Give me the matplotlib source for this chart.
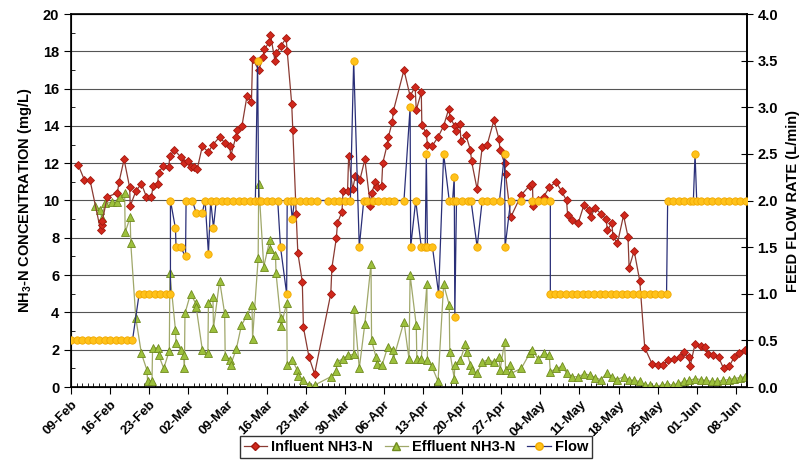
import datetime as dt
import numpy as np
import matplotlib
matplotlib.use("Agg")
import matplotlib.pyplot as plt
import matplotlib.dates as mdates
from matplotlib.ticker import MultipleLocator
from matplotlib.lines import Line2D

plt.rcParams['font.family'] = ['Liberation Sans', 'DejaVu Sans']
plt.rcParams['font.weight'] = 'bold'
plt.rcParams['mathtext.fontset'] = 'custom'
plt.rcParams['mathtext.bf'] = 'Liberation Sans:bold'

# day offsets from 09-Feb
start = mdates.date2num(dt.datetime(2009, 2, 9))

infl_day = [1.3, 2.4, 3.4, 5.3, 5.5, 5.6, 6.5, 8.3, 8.6, 9.5, 10.5, 10.6, 11.6, 12.6, 13.5,
            14.4, 14.7, 15.5, 15.7, 16.5, 17.5, 17.7, 18.5, 19.6, 20.3, 21.0, 21.4, 22.0, 22.6,
            23.5, 24.6, 25.4, 26.6, 27.5, 28.4, 28.6, 29.5, 29.7, 30.6, 31.5, 32.3, 32.5, 33.6,
            34.4, 34.6, 35.5, 35.7, 36.5, 36.7, 37.6, 38.5, 38.7, 39.5, 39.7, 40.3, 40.6, 41.4,
            41.6, 42.6, 43.6, 46.5, 46.7, 47.5, 47.7, 48.5, 48.7, 49.5, 49.7, 50.4, 50.9, 51.7,
            52.6, 53.6, 53.8, 54.5, 54.7, 55.6, 55.8, 56.6, 56.8, 57.5, 57.7, 59.6, 60.7, 61.6,
            61.8, 62.7, 62.8, 63.6, 63.8, 64.6, 65.7, 66.7, 67.6, 67.9, 68.7, 68.9, 69.6, 69.8,
            70.7, 71.5, 71.7, 72.7, 73.6, 74.5, 75.7, 76.6, 76.8, 77.6, 77.8, 78.7, 80.6, 82.1,
            82.6, 82.7, 83.6, 84.6, 85.6, 86.8, 87.8, 88.7, 88.9, 89.7, 90.8, 91.8, 92.8, 93.0,
            93.8, 94.8, 95.8, 96.0, 96.8, 97.0, 97.8, 98.9, 99.7, 99.9, 100.8, 101.8, 102.7,
            104.0, 105.0, 106.0, 106.9, 108.0, 109.0, 109.7, 110.6, 110.8, 111.7, 112.8, 113.4,
            114.0, 114.9, 115.9, 116.8, 117.8, 118.7, 119.6, 120.6]
infl_val = [11.9, 11.1, 11.1, 8.4, 8.7, 8.9, 10.2, 10.4, 11.0, 12.2, 10.7, 9.7, 10.5, 10.9, 10.2,
            10.2, 10.8, 10.9, 11.5, 11.85, 11.8, 12.4, 12.7, 12.35, 12.0, 12.1, 11.8, 11.8, 11.7,
            12.9, 12.6, 13.0, 13.4, 13.1, 12.9, 12.4, 13.4, 13.8, 14.0, 15.6, 15.3, 17.6, 17.0,
            17.7, 18.1, 18.5, 18.9, 17.5, 17.9, 18.3, 18.7, 18.0, 15.2, 13.8, 9.3, 7.2, 5.65,
            3.2, 1.6, 0.7, 5.0, 6.4, 8.0, 8.8, 9.4, 10.5, 10.5, 12.4, 10.6, 11.3, 11.1,
            12.2, 9.7, 10.4, 11.0, 10.7, 10.8, 12.0, 13.0, 13.4, 14.2, 14.8, 17.0, 15.6, 16.1,
            14.85, 15.8, 14.05, 13.6, 13.0, 12.9, 13.4, 14.0, 14.9, 14.4, 14.0, 13.7, 14.1, 13.2,
            13.5, 12.7, 12.1, 10.6, 12.85, 13.0, 14.3, 13.3, 12.7, 12.0, 11.4, 9.1, 10.3, 10.8,
            10.9, 9.7, 10.0, 10.2, 10.7, 11.0, 10.5, 10.0, 9.2, 8.95, 8.8, 9.75, 9.5, 9.1,
            9.6, 9.3, 9.0, 8.4, 8.8, 8.1, 7.7, 9.2, 8.05, 6.4, 7.3, 5.7, 2.1,
            1.25, 1.2, 1.2, 1.45, 1.5, 1.6, 1.85, 1.6, 1.1, 2.3, 2.2, 2.15,
            1.75, 1.7, 1.6, 1.0, 1.1, 1.6, 1.8, 2.0]

effl_day = [4.3, 5.2, 5.5, 6.1, 7.3, 8.2, 8.8, 9.6, 9.7, 10.6, 10.7, 11.6, 12.6, 13.6, 13.7,
            14.5, 14.6, 15.6, 15.7, 16.6, 17.6, 17.7, 18.7, 18.8, 19.6, 20.2, 20.3, 20.4, 21.4,
            22.3, 22.4, 23.5, 24.5, 24.6, 25.4, 25.5, 26.6, 27.5, 27.6, 28.5, 28.6, 29.6, 30.5,
            31.5, 32.4, 32.5, 33.5, 33.6, 34.5, 35.6, 35.7, 36.6, 36.7, 37.5, 37.6, 38.6, 38.7,
            39.6, 40.5, 40.6, 41.5, 42.6, 43.6, 46.5, 47.5, 47.6, 48.6, 49.6, 50.6, 50.7, 51.6,
            52.6, 53.7, 53.8, 54.6, 54.7, 55.7, 56.7, 57.6, 57.7, 59.6, 60.5, 60.7, 61.8, 61.9,
            62.7, 63.7, 63.8, 64.6, 65.7, 66.7, 67.7, 67.8, 68.6, 68.7, 69.7, 70.6, 70.8, 71.5,
            71.7, 72.7, 73.6, 74.6, 75.7, 76.6, 76.8, 77.6, 77.8, 78.6, 78.8, 80.6, 82.1, 82.6,
            83.6, 84.6, 85.6, 85.8, 86.8, 87.8, 88.8, 89.7, 90.8, 91.8, 92.9, 93.8, 94.8, 95.9,
            96.8, 97.8, 98.9, 99.8, 100.8, 101.8, 102.7, 103.7, 104.7, 105.7, 106.7, 107.7,
            108.7, 109.7, 110.7, 111.7, 112.7, 113.7, 114.7, 115.7, 116.7, 117.7, 118.7, 119.7,
            120.6]
effl_val = [9.7, 9.5, 9.05, 9.85, 9.9, 9.9, 10.2, 10.4, 8.3, 9.1, 7.7, 3.7, 1.8, 0.9, 0.34,
            0.34, 2.1, 2.1, 1.7, 1.0, 1.95, 6.1, 3.05, 2.35, 2.0, 1.7, 1.0, 3.95, 5.0,
            4.5, 4.3, 2.0, 1.8, 4.5, 4.8, 3.15, 5.7, 3.95, 1.65, 1.45, 1.2, 2.05, 3.3,
            3.85, 4.4, 2.6, 6.9, 10.9, 6.45, 7.9, 7.4, 7.1, 6.1, 3.7, 3.25, 4.5, 1.2,
            1.45, 0.9, 0.6, 0.37, 0.1, 0.1, 0.55, 0.87, 1.35, 1.5, 1.7, 1.75, 4.2, 1.0,
            3.4, 6.6, 2.5, 1.6, 1.23, 1.2, 2.15, 2.0, 1.5, 3.5, 1.5, 6.0, 3.3, 1.5,
            1.5, 5.5, 1.45, 1.1, 0.3, 5.5, 4.4, 1.9, 0.45, 1.2, 1.45, 2.3, 1.9, 1.2,
            0.9, 0.73, 1.35, 1.45, 1.35, 1.6, 0.9, 2.4, 0.9, 1.2, 0.73, 1.0, 1.8, 2.0,
            1.5, 1.8, 1.7, 0.8, 1.0, 1.1, 0.73, 0.55, 0.55, 0.7, 0.65, 0.5, 0.4, 0.73,
            0.55, 0.4, 0.55, 0.4, 0.35, 0.3, 0.1, 0.1, 0.05, 0.1, 0.15, 0.1,
            0.2, 0.3, 0.35, 0.45, 0.4, 0.35, 0.3, 0.3, 0.35, 0.4, 0.45, 0.5,
            0.55]

flow_day = [0, 1, 2, 3, 4, 5, 6, 7, 8, 9, 10, 11,
            12.2, 13, 14, 15, 16, 17, 17.8,
            17.8, 18.7, 18.8, 19.6, 20.5, 20.6, 21.7, 22.4, 23.5, 24.0, 24.6, 25.0, 25.5, 26.0,
            27, 28, 29, 30, 31, 32, 33, 33.4, 33.6, 34, 35, 36, 37,
            37.5, 38.6, 38.7, 39.3, 39.6, 40.0, 41, 42, 43, 44,
            46, 47, 48, 49, 50, 50.6, 51.6, 52.4, 53, 54, 55, 56, 57, 57.8,
            59.6, 60.7, 60.8, 61.7, 62.7, 63.4, 63.6, 63.8, 64.7, 65.8, 66.7, 67.7,
            68.3, 68.6, 68.7, 69.0, 70, 71, 71.6, 72.7, 73.6, 74.5, 75.5, 76.7,
            77.6, 77.7, 78.7, 80.6, 82.6, 83.6, 84.6, 85.8,
            85.8, 86.6, 87.6, 88.6, 89.6, 90.6, 91.6, 92.6, 93.6, 94.6, 95.6, 96.6,
            97.6, 98.6, 99.6, 100.6, 101.6, 102.6, 103.6, 104.6, 105.6, 106.6,
            106.8, 107.8, 108.8, 109.8, 110.8, 111.4, 111.7, 112.0, 112.8, 113.8,
            114.8, 115.8, 116.8, 117.8, 118.8, 119.8, 120.8]
flow_val = [0.5, 0.5, 0.5, 0.5, 0.5, 0.5, 0.5, 0.5, 0.5, 0.5, 0.5, 0.5,
            1.0, 1.0, 1.0, 1.0, 1.0, 1.0, 1.0,
            2.0, 1.7, 1.5, 1.5, 1.4, 2.0, 2.0, 1.87, 1.87, 2.0, 1.43, 2.0, 1.71, 2.0,
            2.0, 2.0, 2.0, 2.0, 2.0, 2.0, 2.0, 3.5, 2.0, 2.0, 2.0, 2.0, 2.0,
            1.5, 1.0, 2.0, 2.0, 1.8, 2.0, 2.0, 2.0, 2.0, 2.0,
            2.0, 2.0, 2.0, 2.0, 2.0, 3.5, 1.5, 2.0, 2.0, 2.0, 2.0, 2.0, 2.0, 2.0,
            2.0, 3.0, 1.5, 2.0, 1.5, 1.5, 2.5, 1.5, 1.5, 1.0, 2.5, 2.0,
            2.0, 2.25, 0.75, 2.0, 2.0, 2.0, 2.0, 1.5, 2.0, 2.0, 2.0, 2.0,
            2.5, 1.5, 2.0, 2.0, 2.0, 2.0, 2.0, 2.0,
            1.0, 1.0, 1.0, 1.0, 1.0, 1.0, 1.0, 1.0, 1.0, 1.0, 1.0, 1.0,
            1.0, 1.0, 1.0, 1.0, 1.0, 1.0, 1.0, 1.0, 1.0, 1.0,
            2.0, 2.0, 2.0, 2.0, 2.0, 2.0, 2.5, 2.0, 2.0, 2.0,
            2.0, 2.0, 2.0, 2.0, 2.0, 2.0, 2.0]

fig = plt.figure(figsize=(8.01, 4.65), dpi=100)
ax = fig.add_axes([71 / 801, 1 - 387 / 465, (747 - 71) / 801, (387 - 14) / 465])
ax2 = ax.twinx()

ax.plot(start + np.array(effl_day), effl_val, '-', color='#a0a86a', lw=0.9,
        marker='^', ms=5.2, mfc='#9cc03c', mec='#6f8a1e', mew=0.6, zorder=3)
ax.plot(start + np.array(infl_day), infl_val, '-', color='#8a3a32', lw=0.9,
        marker='D', ms=4.0, mfc='#d0281c', mec='#a3180f', mew=0.6, zorder=4)
ax2.plot(start + np.array(flow_day), flow_val, '-', color='#2a2f78', lw=0.9,
         marker='o', ms=5.3, mfc='#ffc21a', mec='#f0a800', mew=0.6, zorder=5)

ax.set_ylim(0, 20)
ax2.set_ylim(0, 4)
ax.set_xlim(start, start + 121)

ax.yaxis.set_major_locator(MultipleLocator(2))
ax.yaxis.set_minor_locator(MultipleLocator(1))
ax2.yaxis.set_major_locator(MultipleLocator(0.5))
ax2.yaxis.set_major_formatter(matplotlib.ticker.FormatStrFormatter('%.1f'))
ax.xaxis.set_major_locator(mdates.WeekdayLocator(byweekday=mdates.MO))
ax.xaxis.set_minor_locator(mdates.DayLocator())
ax.xaxis.set_major_formatter(mdates.DateFormatter('%d-%b'))

ax.grid(axis='y', which='major', color='#555555', lw=0.8)
ax.set_axisbelow(True)

ax.tick_params(axis='y', which='major', direction='out', length=5, labelsize=10.5)
ax.tick_params(axis='y', which='minor', direction='in', length=3)
ax.tick_params(axis='x', which='major', direction='out', length=5, labelsize=9.5)
ax.tick_params(axis='x', which='minor', direction='in', length=3)
ax2.tick_params(axis='y', which='major', direction='inout', length=8, labelsize=10.5)
for lab in ax.get_xticklabels():
    lab.set_rotation(45)
    lab.set_ha('right')
    lab.set_rotation_mode('anchor')

for s in ['top', 'bottom', 'left', 'right']:
    ax.spines[s].set_color('black')
    ax.spines[s].set_linewidth(1.2)
ax2.spines['right'].set_linewidth(1.2)

ax.set_ylabel(r'NH$_\mathbf{3}$-N CONCENTRATION (mg/L)', fontsize=10.5, fontweight='bold',
              labelpad=6)
ax2.set_ylabel('FEED FLOW RATE (L/min)', fontsize=10.5, fontweight='bold', labelpad=6)

handles = [
    Line2D([], [], color='#8a3a32', lw=0.9, marker='D', ms=4.0, mfc='#d0281c', mec='#a3180f'),
    Line2D([], [], color='#a0a86a', lw=0.9, marker='^', ms=5.2, mfc='#9cc03c', mec='#6f8a1e'),
    Line2D([], [], color='#2a2f78', lw=0.9, marker='o', ms=5.3, mfc='#ffc21a', mec='#f0a800'),
]
leg = fig.legend(handles, ['Influent NH3-N', 'Effluent NH3-N', 'Flow'], loc='lower center',
                 bbox_to_anchor=(416 / 801, 0.0), ncol=3, fontsize=10.5, frameon=True,
                 fancybox=False, edgecolor='black', handlelength=1.6, handletextpad=0.3,
                 columnspacing=0.8, borderpad=0.25)
leg.get_frame().set_linewidth(1.0)

fig.savefig('out.png', dpi=100)
